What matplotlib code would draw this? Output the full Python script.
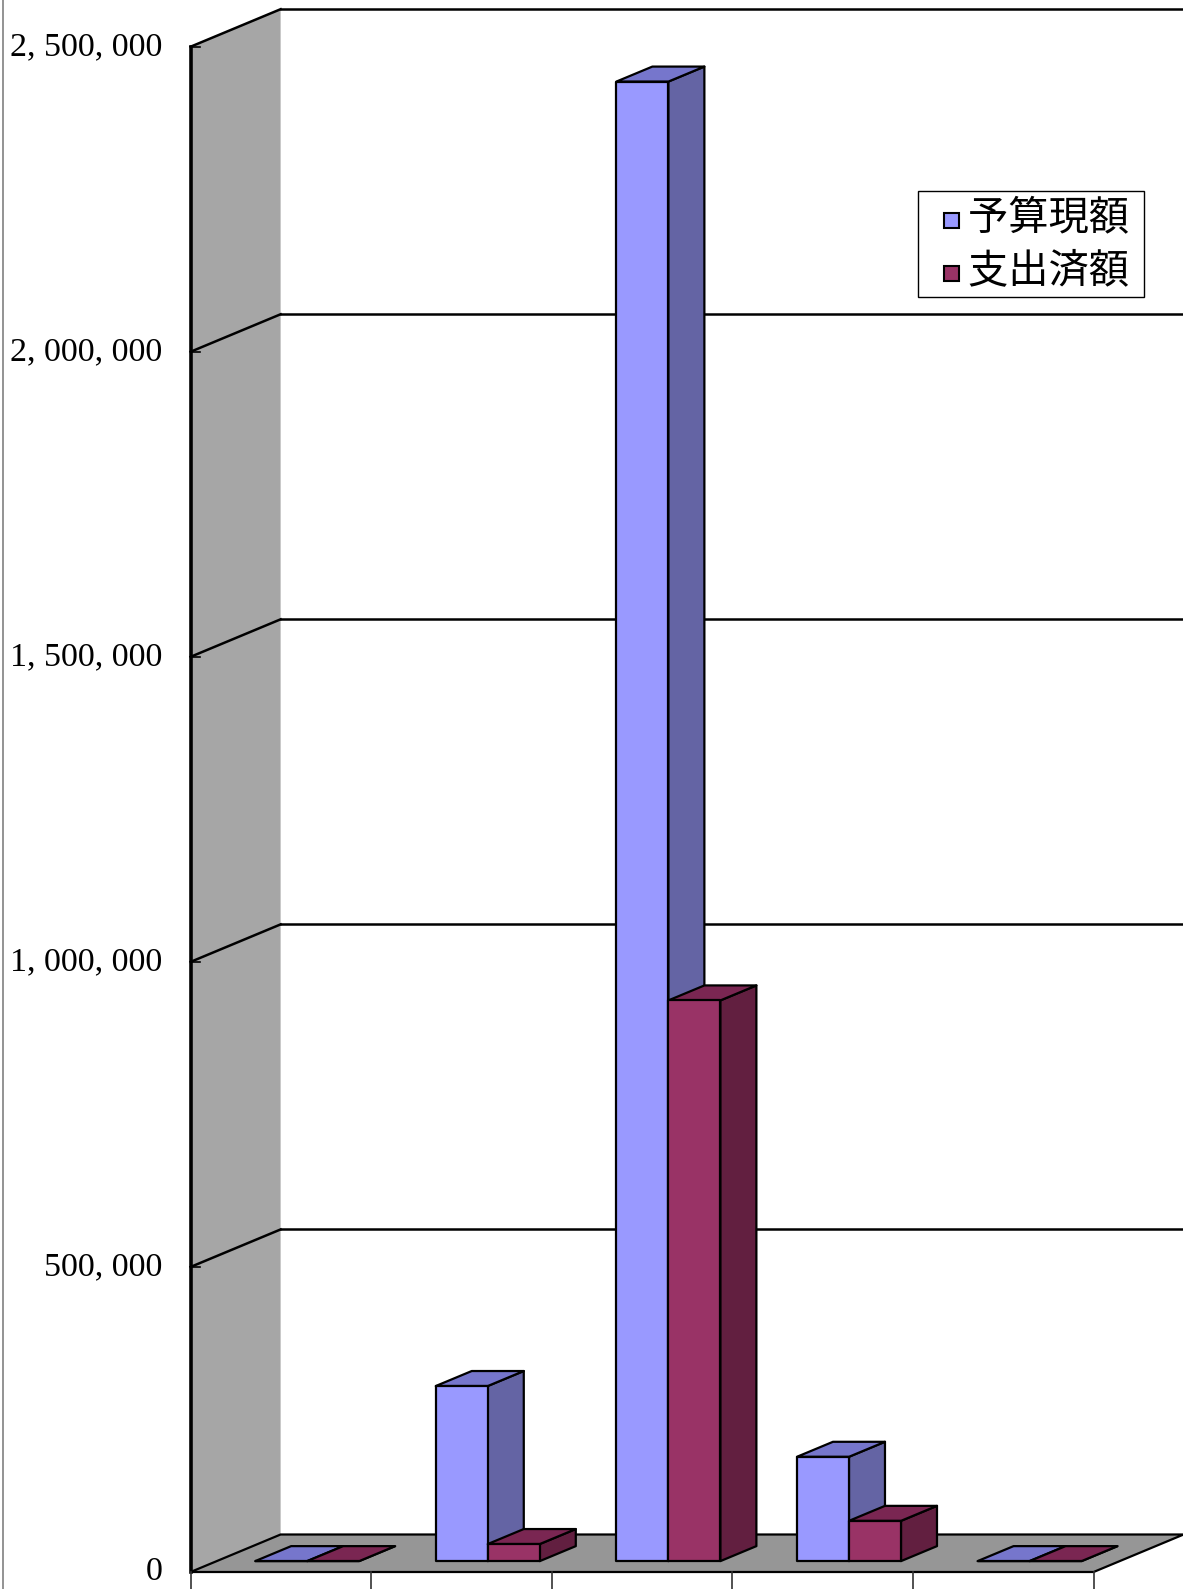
import matplotlib
matplotlib.use("Agg")
import matplotlib.pyplot as plt
from matplotlib.patches import Polygon, Patch, Rectangle
from matplotlib.legend_handler import HandlerPatch

# data
categories = ["1", "2", "3", "4", "5"]
series_names = ["予算現額", "支出済額"]
budget = [0, 287000, 2425000, 171000, 0]
spent = [0, 28000, 919000, 66000, 0]
yticks = [0, 500000, 1000000, 1500000, 2000000, 2500000]

front_cols = ["#9999FF", "#993366"]
top_cols = ["#7676CC", "#7A2652"]
side_cols = ["#6464A4", "#621F40"]

W, H = 1183, 1589
x0_px, y0_px, ytop_px = 190.6, 1572.0, 46.7
cat_px = 180.6
val_px = (y0_px - ytop_px) / yticks[-1]
DX = 90.0 / cat_px          # depth offset in category units
DY = 37.5 / val_px          # depth offset in value units
d0, d1 = 0.29, 0.69         # bar depth span
gap, bw = 0.213, 0.288

fig = plt.figure(figsize=(W / 100, H / 100), dpi=100)
ax = fig.add_axes([0, 0, 1, 1])
ax.set_xlim(-x0_px / cat_px, (W - x0_px) / cat_px)
ax.set_ylim(-(H - y0_px) / val_px, y0_px / val_px)
ax.axis("off")

def P(x, y, d):
    return (x + d * DX, y + d * DY)

n = len(categories)
ymax = yticks[-1]
xr_edge = ax.get_xlim()[1]

# back wall
ax.add_patch(Polygon([P(0, 0, 1), (xr_edge, DY), (xr_edge, ymax + DY), P(0, ymax, 1)],
                     closed=True, fc="white", ec="none", zorder=1))
for v in yticks[1:]:
    ax.plot([DX, xr_edge], [v + DY, v + DY], color="black", lw=1.8, zorder=2)

# left wall
ax.add_patch(Polygon([P(0, 0, 0), P(0, ymax, 0), P(0, ymax, 1), P(0, 0, 1)],
                     closed=True, fc="#A6A6A6", ec="none", zorder=1))
for v in yticks[1:]:
    a, b = P(0, v, 0), P(0, v, 1)
    ax.plot([a[0], b[0]], [a[1], b[1]], color="black", lw=1.8, zorder=2)

# floor
ax.add_patch(Polygon([P(0, 0, 0), P(n, 0, 0), P(n, 0, 1), P(0, 0, 1)],
                     closed=True, fc="#969696", ec="black", lw=1.6, zorder=2))

# left axis + ticks
ax.plot([0, 0], [0, ymax], color="black", lw=2.6, zorder=3)
for v in yticks:
    ax.plot([0, 9 / cat_px], [v, v], color="black", lw=1.2, zorder=3)
    lab = f"{v:,}".replace(",", ", ")
    ax.text(-28 / cat_px, v, lab, ha="right", va="center", fontsize=24.5,
            family=["Liberation Serif", "DejaVu Serif"], color="black", zorder=3)

# category ticks below floor
for i in range(n + 1):
    ax.plot([i, i], [0, -17 / val_px], color="#333333", lw=1.2, zorder=3)

# bars
for i in range(n):
    for j, vals in enumerate([budget, spent]):
        v = vals[i]
        xl = i + gap + j * bw
        xr = xl + bw
        kw = dict(closed=True, ec="black", lw=1.6, joinstyle="round", zorder=4)
        ax.add_patch(Polygon([P(xr, 0, d0), P(xr, v, d0), P(xr, v, d1), P(xr, 0, d1)],
                             fc=side_cols[j], **kw))
        ax.add_patch(Polygon([P(xl, v, d0), P(xr, v, d0), P(xr, v, d1), P(xl, v, d1)],
                             fc=top_cols[j], **kw))
        ax.add_patch(Polygon([P(xl, 0, d0), P(xr, 0, d0), P(xr, v, d0), P(xl, v, d0)],
                             fc=front_cols[j], **kw))

# chart area left border
ax.plot([2.5 / W, 2.5 / W], [0, 1], transform=ax.transAxes, color="#808080", lw=1.2)


def square_right(legend, orig_handle, xdescent, ydescent, width, height, fontsize):
    s = 0.38 * fontsize
    return Rectangle((xdescent + width - s, ydescent + 0.12 * fontsize), s, s)


handles = [Patch(fc=front_cols[k], ec="black", lw=1.5) for k in range(2)]
leg = fig.legend(handles, [s + " " for s in series_names], loc="upper left",
                 bbox_to_anchor=(918 / W, 1 - 191 / H),
                 prop={"family": ["Noto Sans CJK JP", "DejaVu Sans"], "size": 29},
                 frameon=True, fancybox=False, edgecolor="black", framealpha=1,
                 handlelength=0.88, handleheight=0.42, handletextpad=0.2,
                 labelspacing=0.3, borderpad=0.15, borderaxespad=0,
                 handler_map={Patch: HandlerPatch(patch_func=square_right)})
leg.get_frame().set_linewidth(1.0)

fig.savefig("out.png", dpi=100)
